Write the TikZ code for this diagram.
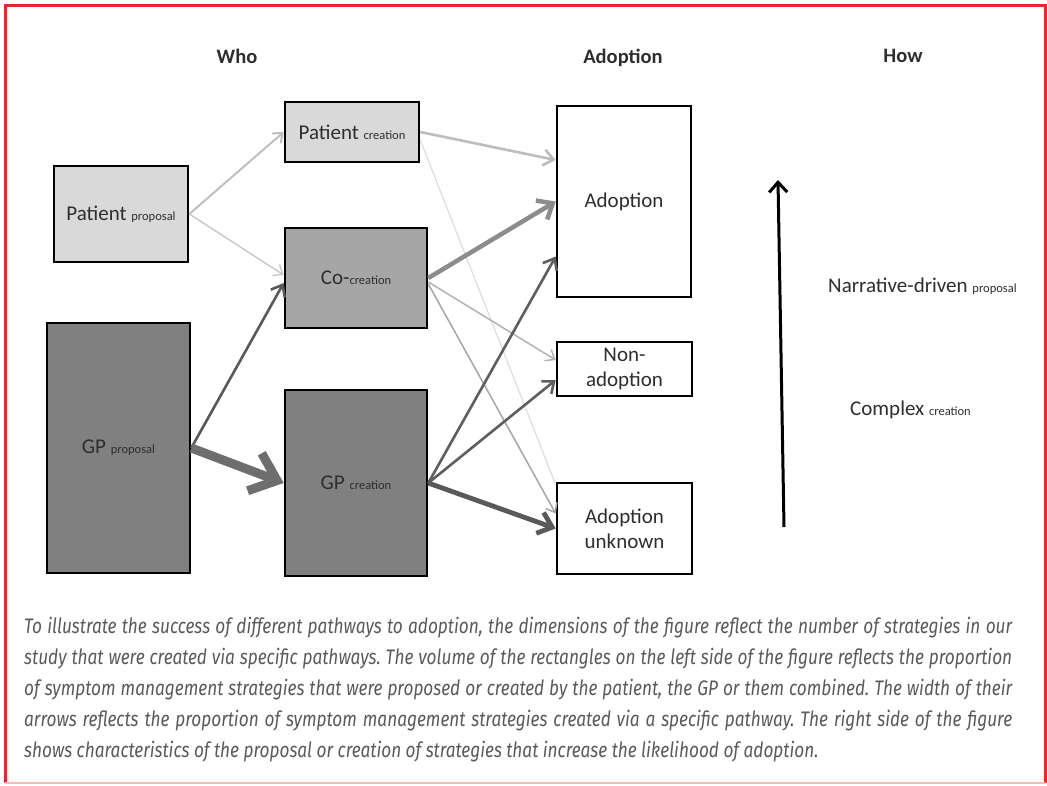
\documentclass[tikz,border=0pt]{standalone}
\usepackage{fontspec}
\setmainfont{Carlito}
\newfontfamily\capfont[FakeStretch=0.82]{Fira Sans}
\usetikzlibrary{arrows.meta,calc}
\definecolor{frame}{HTML}{E8262C}
\definecolor{framelow}{HTML}{F7B8B8}
\definecolor{light}{HTML}{D9D9D9}
\definecolor{mid}{HTML}{A6A6A6}
\definecolor{dark}{HTML}{808080}
\definecolor{txt}{HTML}{2E2E2E}
\definecolor{capgray}{HTML}{5A5A5A}
\newcommand{\sm}[1]{{\fontsize{12.5}{14}\selectfont #1}}
\begin{document}
\begin{tikzpicture}[x=1pt,y=-1pt,
  box/.style={draw=black, line width=2.6pt, inner sep=0pt, align=center,
    text=txt, font=\fontsize{21}{25}\selectfont},
  head/.style={font=\bfseries\fontsize{20.5}{24}\selectfont, text=txt},
  lbl/.style={font=\fontsize{21}{24}\selectfont, text=txt, anchor=west, inner sep=0pt},
  thinA/.style={line width=#1, -{Straight Barb[length=8pt,width=13pt]}},
  medA/.style={line width=#1, -{Straight Barb[length=10pt,width=16pt]}},
  thickA/.style={line width=#1, -{Straight Barb[length=13pt,width=22pt]}},
]
\useasboundingbox (0,0) rectangle (1047,785);
\fill[white] (0,0) rectangle (1047,785);
% frame
\draw[frame, line width=3pt] (5,783) -- (5,5) -- (1045,5) -- (1045,783);
\draw[framelow, line width=2pt] (5,783) -- (1045,783);

% headers
\node[head] (who) at (237,56) {Who};
\node[head] (adh) at (623,58) {Adoption};
\node[head] (how) at (903,56) {How};

% boxes
\node[box, fill=light, minimum width=134pt, minimum height=96pt] (pp) at (121,214) {Patient \sm{proposal}};
\node[box, fill=light, minimum width=134pt, minimum height=60pt] (pc) at (352,132) {Patient \sm{creation}};
\node[box, fill=mid, minimum width=142pt, minimum height=100pt] (cc) at (356,278) {Co-\sm{creation}};
\node[box, fill=dark, minimum width=143pt, minimum height=250pt] (gpp) at (118.5,448) {GP \sm{proposal}};
\node[box, fill=dark, minimum width=142pt, minimum height=186pt] (gpc) at (356,483) {GP \sm{creation}};
\node[box, fill=white, minimum width=134pt, minimum height=191pt] (ad) at (624,201.5) {Adoption};
\node[box, fill=white, minimum width=135pt, minimum height=54pt] (na) at (624.5,369) {Non-\\adoption};
\node[box, fill=white, minimum width=135pt, minimum height=91pt] (au) at (624.5,528.5) {Adoption\\unknown};

% connectors
\draw[thinA=2pt, color=black!25] (pp.east) -- (pc.west);
\draw[thinA=1.4pt, color=black!22] (pp.east) -- ([yshift=3pt]cc.west);
\draw[medA=2.6pt, color=black!65] (gpp.east) -- ([yshift=-5pt]cc.west);
\draw[line width=9pt, color=black!57, -{Straight Barb[length=24pt,width=40pt]}] (gpp.east) -- (gpc.west);
\draw[medA=2.6pt, color=black!26] (pc.east) -- ([yshift=41.5pt]ad.west);
\draw[line width=1.1pt, color=black!14] ([yshift=-8pt]pc.east) -- ([yshift=-3pt]au.north west);
\draw[thickA=4.5pt, color=black!45] (cc.east) -- (ad.west);
\draw[thinA=1.5pt, color=black!30] ([yshift=-4pt]cc.east) -- ([yshift=9pt]na.west);
\draw[thinA=1.5pt, color=black!35] ([yshift=-6pt]cc.east) -- ([yshift=15pt]au.west);
\draw[medA=2.6pt, color=black!63] (gpc.east) -- ([yshift=-55pt]ad.west);
\draw[medA=2.6pt, color=black!63] (gpc.east) -- ([yshift=-11pt]na.west);
\draw[thickA=4.8pt, color=black!65] (gpc.east) -- (au.west);

% how arrow
\coordinate (h1) at (784,527);
\coordinate (h2) at (778,180);
\draw[line width=3pt, black, -{Straight Barb[length=10pt,width=18pt]}] (h1) -- (h2);
\node[lbl] (nd) at (828,286) {Narrative-driven \sm{proposal}};
\node[lbl] (cx) at (850,410) {Complex \sm{creation}};

% caption
\node[anchor=north west, text width=988pt, align=justify, inner sep=0pt,
  font=\capfont\itshape\fontsize{21}{31}\selectfont\frenchspacing, text=capgray] (cap) at (24,617)
{\noindent To illustrate the success of different pathways to adoption, the dimensions of the figure reflect the number of strategies in our\linebreak
study that were created via specific pathways. The volume of the rectangles on the left side of the figure reflects the proportion\linebreak
of symptom management strategies that were proposed or created by the patient, the GP or them combined. The width of their\linebreak
arrows reflects the proportion of symptom management strategies created via a specific pathway. The right side of the figure\linebreak
shows characteristics of the proposal or creation of strategies that increase the likelihood of adoption.};
\end{tikzpicture}
\end{document}
